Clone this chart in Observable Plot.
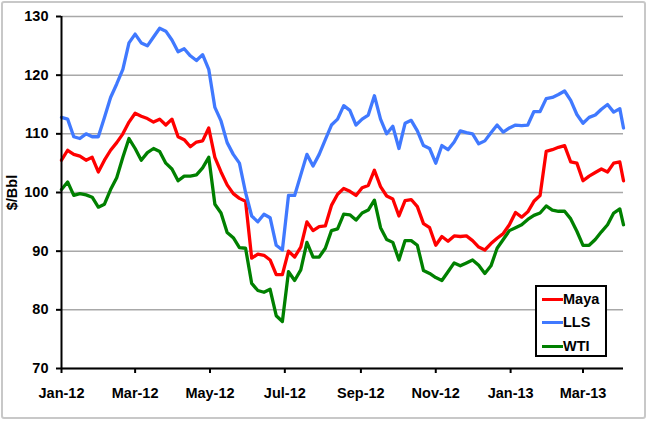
<!DOCTYPE html>
<html><head><meta charset="utf-8">
<script src="https://cdn.jsdelivr.net/npm/d3@7"></script>
<script src="https://cdn.jsdelivr.net/npm/@observablehq/plot@0.6"></script>
<style>
html,body{margin:0;padding:0;background:#fff;}
#wrap{position:relative;width:650px;height:421px;overflow:hidden;font-family:Arial,"Liberation Sans",sans-serif;}
#border{position:absolute;left:1px;top:1px;width:645px;height:418px;box-sizing:border-box;border:2px solid #c8c8c8;border-radius:3px;}
#chart{position:absolute;left:0;top:0;}
#legend{position:absolute;left:535px;top:285px;width:72px;height:72px;box-sizing:border-box;border:2px solid #000;background:#fff;}
.row{position:absolute;left:0;height:18px;width:70px;font-weight:bold;font-size:14.5px;line-height:18px;color:#000;}
.row .sw{position:absolute;left:5px;top:7.5px;width:21px;height:3px;}
.row .tx{position:absolute;left:26px;top:0;}
</style>
</head><body>
<div id="wrap"><div id="border"></div><div id="chart"></div><div id="legend"></div></div>
<script>
const dates = ["2012-01-01","2012-01-06","2012-01-11","2012-01-16","2012-01-21","2012-01-26","2012-01-31","2012-02-05","2012-02-10","2012-02-15","2012-02-20","2012-02-25","2012-03-01","2012-03-06","2012-03-11","2012-03-16","2012-03-21","2012-03-26","2012-03-31","2012-04-05","2012-04-10","2012-04-15","2012-04-20","2012-04-25","2012-04-30","2012-05-05","2012-05-10","2012-05-15","2012-05-20","2012-05-25","2012-05-30","2012-06-04","2012-06-09","2012-06-14","2012-06-19","2012-06-24","2012-06-29","2012-07-04","2012-07-09","2012-07-14","2012-07-19","2012-07-24","2012-07-29","2012-08-03","2012-08-08","2012-08-13","2012-08-18","2012-08-23","2012-08-28","2012-09-02","2012-09-07","2012-09-12","2012-09-17","2012-09-22","2012-09-27","2012-10-02","2012-10-07","2012-10-12","2012-10-17","2012-10-22","2012-10-27","2012-11-01","2012-11-06","2012-11-11","2012-11-16","2012-11-21","2012-11-26","2012-12-01","2012-12-06","2012-12-11","2012-12-16","2012-12-21","2012-12-26","2012-12-31","2013-01-05","2013-01-10","2013-01-15","2013-01-20","2013-01-25","2013-01-30","2013-02-04","2013-02-09","2013-02-14","2013-02-19","2013-02-24","2013-03-01","2013-03-06","2013-03-11","2013-03-16","2013-03-21","2013-03-26","2013-03-31","2013-04-03"];

const maya = [105.5,107.2,106.5,106.2,105.5,106,103.5,105.5,107.2,108.5,110,112,113.5,113,112.6,112,112.5,111.5,112.5,109.5,109,107.8,108.6,108.8,111,106,103.5,101.3,99.8,99,98.5,88.8,89.5,89.3,88.5,86,86,90,89,90.7,95,93.5,94.2,94.3,97.8,99.7,100.7,100.2,99.5,100.8,101.2,103.8,101,99.4,98.9,96,98.6,98.8,97.6,94.7,94,91,92.5,91.7,92.6,92.5,92.6,91.8,90.7,90.2,91.3,92.2,93,94.5,96.6,95.8,96.7,98.5,99.5,107,107.3,107.7,108,105.2,105,102,102.8,103.4,104,103.5,105,105.2,102];

const lls = [112.8,112.5,109.5,109.2,110,109.5,109.5,112.8,116.2,118.5,121,125.5,127,125.5,125,126.5,128,127.5,126,124,124.5,123.3,122.5,123.5,121,114.5,112.2,108.5,106.5,105,100,96,95,96.3,95.7,91,90.2,99.5,99.5,103,106.5,104.5,106.5,109,111.5,112.5,114.8,114,111.5,112.5,113.2,116.5,112.5,110,111.3,107.5,111.8,112.3,110.5,108,107.5,105,108,107.3,108.6,110.5,110.2,110,108.3,108.8,110.2,111.5,110.3,111,111.5,111.4,111.5,113.8,113.8,116,116.2,116.7,117.3,115.7,113.3,111.8,112.8,113.2,114.2,115,113.7,114.3,111];

const wti = [100.5,101.8,99.5,99.8,99.6,99.2,97.5,98,100.5,102.5,106,109.2,107.5,105.5,106.8,107.5,107,105,104,102,102.8,102.8,103,104.2,106,98,96.5,93.2,92.3,90.6,90.5,84.5,83.3,83,83.5,79,78,86.5,85,86.8,91.5,89,89,90.5,93.5,93.8,96.3,96.2,95.3,96.5,97,98.7,94,92,91.5,88.5,91.8,91.8,91,86.7,86.2,85.5,85,86.5,88,87.5,88,88.5,87.6,86.2,87.5,90.5,92,93.5,94,94.5,95.4,96.1,96.5,97.7,97,96.8,96.8,95.5,93.4,91,91,92,93.3,94.5,96.5,97.2,94.5];

const seriesNames = ["Maya", "LLS", "WTI"];
const seriesColors = ["#ff0000", "#4079ff", "#008000"];
const yTicks = [70, 80, 90, 100, 110, 120, 130];
const xTickDates = ["2012-01-01","2012-03-01","2012-05-01","2012-07-01","2012-09-01","2012-11-01","2013-01-01","2013-03-01"];
const xTickLabels = ["Jan-12","Mar-12","May-12","Jul-12","Sep-12","Nov-12","Jan-13","Mar-13"];
const yLabel = "$/Bbl";

const parse = d3.utcParse("%Y-%m-%d");
const seriesValues = [maya, lls, wti];
const rows = seriesNames.map((name, k) => dates.map((d, i) => ({series: name, date: parse(d), value: seriesValues[k][i]})));
const tickDates = xTickDates.map(parse);
const labelOf = new Map(tickDates.map((d, i) => [+d, xTickLabels[i]]));
const xDomain = [parse(dates[0]), parse(dates[dates.length - 1])];

const chart = Plot.plot({
  width: 650, height: 421,
  marginLeft: 61, marginRight: 27, marginTop: 16, marginBottom: 53,
  style: {fontFamily: 'Arial, "Liberation Sans", sans-serif', fontSize: "14.5px", fontWeight: "bold", color: "#000", background: "transparent", overflow: "visible"},
  x: {type: "utc", domain: xDomain},
  y: {domain: [70, 130]},
  marks: [
    Plot.gridY(yTicks, {stroke: "#a8a8a8", strokeOpacity: 1, strokeWidth: 1.5}),
    ...rows.map((r, k) => Plot.line(r, {x: "date", y: "value", stroke: seriesColors[k], strokeWidth: 3.3, strokeLinejoin: "round"})),
    Plot.ruleY([70], {stroke: "#000", strokeWidth: 2}),
    Plot.ruleX([xDomain[0]], {stroke: "#000", strokeWidth: 2}),
    Plot.axisX(tickDates, {tickSize: 5, tickPadding: 14, strokeWidth: 2, stroke: "#000", tickFormat: d => labelOf.get(+d), label: null}),
    Plot.axisY(yTicks, {tickSize: 5, tickPadding: 8, strokeWidth: 2, stroke: "#000", label: yLabel, labelArrow: "none", labelAnchor: "center", labelOffset: 55})
  ]
});
document.getElementById("chart").appendChild(chart);

const legend = document.getElementById("legend");
const rowTops = [3, 26, 50];
seriesNames.forEach((name, k) => {
  const row = document.createElement("div");
  row.className = "row";
  row.style.top = rowTops[k] + "px";
  row.innerHTML = `<span class="sw" style="background:${seriesColors[k]}"></span><span class="tx">${name}</span>`;
  legend.appendChild(row);
});
</script>
</body></html>
